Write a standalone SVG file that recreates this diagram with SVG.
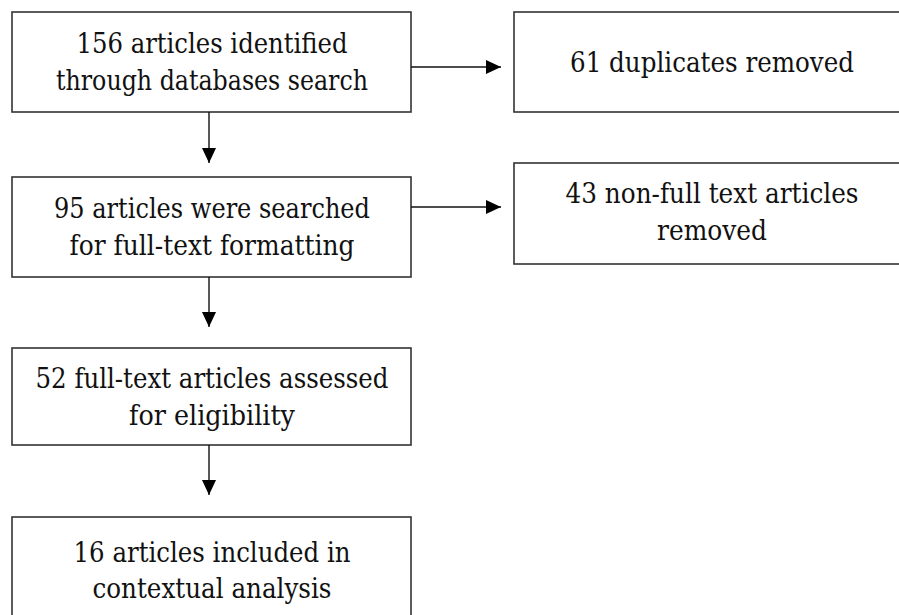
<svg xmlns="http://www.w3.org/2000/svg" width="899" height="615" viewBox="0 0 899 615">
<style>
.box{fill:#fff;stroke:#333;stroke-width:1.6}
.t{font-family:'DejaVu Serif',serif;font-size:28px;fill:#111;text-anchor:middle}
.c{stroke:#111;stroke-width:1.4;fill:none}
</style>
<defs>
<marker id="ah" markerWidth="15" markerHeight="14" refX="15" refY="7" orient="auto" markerUnits="userSpaceOnUse">
<path d="M0,0 L15,7 L0,14 Z" fill="#000"/>
</marker>
</defs>
<rect width="899" height="615" fill="#fff"/>
<g id="n1"><rect class="box" x="12" y="12" width="399" height="100"/>
<text class="t" x="212" y="53" textLength="271" lengthAdjust="spacingAndGlyphs">156 articles identified</text>
<text class="t" x="212" y="90" textLength="312" lengthAdjust="spacingAndGlyphs">through databases search</text></g>
<g id="n2"><rect class="box" x="514" y="12" width="397" height="100"/>
<text class="t" x="712" y="72" textLength="284" lengthAdjust="spacingAndGlyphs">61 duplicates removed</text></g>
<g id="n3"><rect class="box" x="12" y="177" width="399" height="100"/>
<text class="t" x="212" y="218" textLength="316" lengthAdjust="spacingAndGlyphs">95 articles were searched</text>
<text class="t" x="212" y="255" textLength="285" lengthAdjust="spacingAndGlyphs">for full-text formatting</text></g>
<g id="n4"><rect class="box" x="514" y="163" width="397" height="101"/>
<text class="t" x="712" y="203" textLength="293" lengthAdjust="spacingAndGlyphs">43 non-full text articles</text>
<text class="t" x="712" y="240" textLength="110" lengthAdjust="spacingAndGlyphs">removed</text></g>
<g id="n5"><rect class="box" x="12" y="348" width="399" height="97"/>
<text class="t" x="212" y="388" textLength="353" lengthAdjust="spacingAndGlyphs">52 full-text articles assessed</text>
<text class="t" x="212" y="425" textLength="166" lengthAdjust="spacingAndGlyphs">for eligibility</text></g>
<g id="n6"><rect class="box" x="12" y="517" width="399" height="100"/>
<text class="t" x="212" y="562" textLength="277" lengthAdjust="spacingAndGlyphs">16 articles included in</text>
<text class="t" x="212" y="598" textLength="239" lengthAdjust="spacingAndGlyphs">contextual analysis</text></g>
<g id="connectors">
<line class="c" x1="209" y1="112" x2="209" y2="163" marker-end="url(#ah)"/>
<line class="c" x1="209" y1="277" x2="209" y2="327" marker-end="url(#ah)"/>
<line class="c" x1="209" y1="445" x2="209" y2="495" marker-end="url(#ah)"/>
<line class="c" x1="411" y1="67" x2="501" y2="67" marker-end="url(#ah)"/>
<line class="c" x1="411" y1="207" x2="501" y2="207" marker-end="url(#ah)"/>
</g>
</svg>
